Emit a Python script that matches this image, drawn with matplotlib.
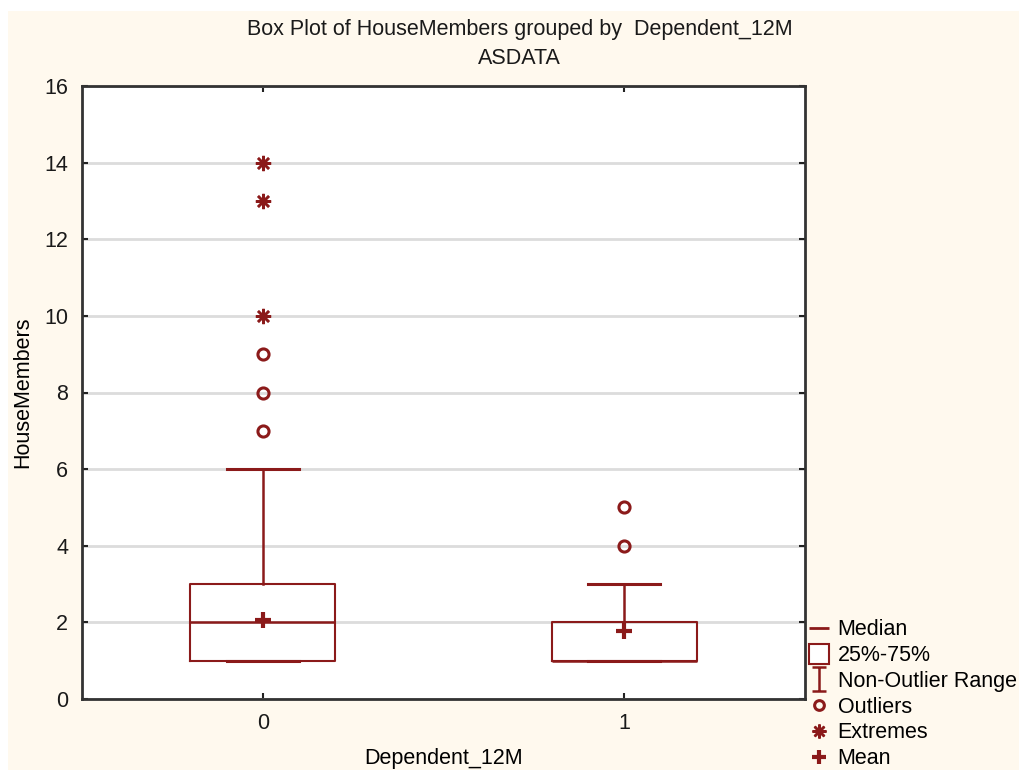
import numpy as np
import matplotlib.pyplot as plt
from matplotlib.path import Path
from matplotlib.lines import Line2D
from matplotlib.patches import Rectangle

plt.rcParams['font.family'] = ['Liberation Sans', 'DejaVu Sans']

groups = ['0', '1']
q1 = [1, 1]
medians = [2, 1]
q3 = [3, 2]
whisk_lo = [1, 1]
whisk_hi = [6, 3]
means = [2.06, 1.78]
outliers = [[7, 8, 9], [4, 5]]
extremes = [[10, 13, 14], []]

red = '#8B1A1A'
bg = '#FFF9EE'
fs = 15.5

fig = plt.figure(figsize=(10.19, 7.7), dpi=100)
fig.patch.set_facecolor('white')
# cream panel (the reference has a thin white strip on top/left)
fig.patches.append(Rectangle((8 / 1019, 0), 1, 1 - 11 / 770, transform=fig.transFigure,
                             facecolor=bg, edgecolor='none', zorder=-10))
ax = fig.add_axes([82 / 1019, 1 - 699 / 770, (805 - 82) / 1019, (699 - 86) / 770])
ax.set_facecolor('white')

stats = []
for i in range(len(groups)):
    stats.append(dict(q1=q1[i], med=medians[i], q3=q3[i], whislo=whisk_lo[i],
                      whishi=whisk_hi[i], mean=means[i], fliers=[]))

pos = np.arange(len(groups))
ax.bxp(stats, positions=pos, widths=0.4, showmeans=False, showfliers=False,
       boxprops=dict(color=red, linewidth=1.5),
       medianprops=dict(color=red, linewidth=1.8),
       whiskerprops=dict(color=red, linewidth=1.8),
       capprops=dict(color=red, linewidth=2.2),
       capwidths=0.2, zorder=3)

for i, p in enumerate(pos):
    ax.plot([p] * len(outliers[i]), outliers[i], 'o', ms=8, mfc='none', mec=red,
            mew=2.2, zorder=4)
    ax.plot([p] * len(extremes[i]), extremes[i], ls='none', marker=(8, 2, 0), ms=11,
            mec=red, mew=1.8, zorder=4)
    ax.plot(p, means[i], '+', ms=11, mec=red, mew=3, zorder=4)

ax.set_xlim(-0.5, 1.5)
ax.set_ylim(0, 16)
ax.set_xticks(pos)
ax.set_xticklabels(groups)
ax.set_yticks(range(0, 17, 2))
ax.yaxis.grid(True, color='#dcdcdc', linewidth=2, zorder=0)
ax.set_axisbelow(True)
ax.tick_params(direction='in', length=4, width=1.5, labelsize=fs, pad=10,
               top=True, right=True, colors='#222222', labelcolor='#1a1a1a')
for s in ax.spines.values():
    s.set_linewidth(2)
    s.set_color('#333333')

ax.set_xlabel('Dependent_12M', fontsize=fs, labelpad=10)
ax.set_ylabel('HouseMembers', fontsize=fs, labelpad=8)
fig.text(0.51, 1 - 29 / 770, 'Box Plot of HouseMembers grouped by  Dependent_12M',
         ha='center', va='center', fontsize=fs, color='#1a1a1a')
fig.text(0.51, 1 - 59 / 770, 'ASDATA', ha='center', va='center', fontsize=fs,
         color='#1a1a1a')

# legend
ibeam = Path([(-0.6, -1), (0.6, -1), (0, -1), (0, 1), (-0.6, 1), (0.6, 1)],
             [Path.MOVETO, Path.LINETO, Path.MOVETO, Path.LINETO, Path.MOVETO, Path.LINETO])
handles = [
    Line2D([], [], ls='none', marker='_', ms=14, mec=red, mew=2),
    Line2D([], [], ls='none', marker='s', ms=15, mfc='white', mec=red, mew=1.5),
    Line2D([], [], ls='none', marker=ibeam, ms=17, mec=red, mew=1.8),
    Line2D([], [], ls='none', marker='o', ms=7, mfc='none', mec=red, mew=2.2),
    Line2D([], [], ls='none', marker=(8, 2, 0), ms=10, mec=red, mew=1.8),
    Line2D([], [], ls='none', marker='+', ms=10, mec=red, mew=3),
]
labels = ['Median', '25%-75%', 'Non-Outlier Range', 'Outliers', 'Extremes', 'Mean']
fig.legend(handles, labels, loc='upper left', bbox_to_anchor=(802 / 1019, 1 - 613 / 770),
           frameon=False, fontsize=fs, handlelength=1.0, handletextpad=0.35,
           labelspacing=0.22, borderaxespad=0, borderpad=0.3)

fig.savefig('out.png', dpi=100, facecolor=fig.get_facecolor())
